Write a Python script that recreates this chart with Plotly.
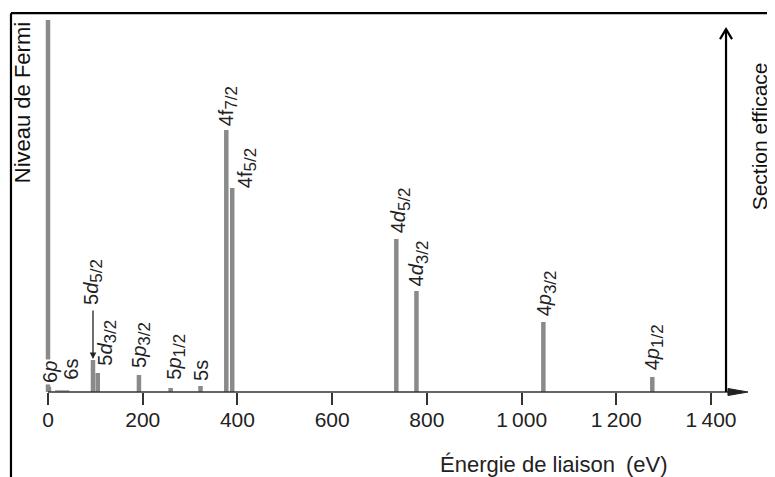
import plotly.graph_objects as go

# ---- data ----
levels = ["Fermi", "6p", "6s", "5d5/2", "5d3/2", "5p3/2", "5p1/2", "5s",
          "4f7/2", "4f5/2", "4d5/2", "4d3/2", "4p3/2", "4p1/2"]
energies = [0, 2, 30, 95, 105, 192, 259, 322, 376.5, 389, 735.5, 778, 1046, 1276]
intensities = [372, 5, 2, 32, 19, 17, 4, 6, 262, 204, 153, 101, 70, 15]
SUB = "<sub><span style='font-size:17px'>{}</span></sub>"
labels_html = [None, "6<i>p</i>", "6s",
               "5<i>d</i>" + SUB.format("5/2"),
               "5<i>d</i>" + SUB.format("3/2"),
               "5<i>p</i>" + SUB.format("3/2"),
               "5<i>p</i>" + SUB.format("1/2"),
               "5s",
               "4f" + SUB.format("7/2"),
               "4f" + SUB.format("5/2"),
               "4<i>d</i>" + SUB.format("5/2"),
               "4<i>d</i>" + SUB.format("3/2"),
               "4<i>p</i>" + SUB.format("3/2"),
               "4<i>p</i>" + SUB.format("1/2")]
tick_vals = [0, 200, 400, 600, 800, 1000, 1200, 1400]
tick_text = ["0", "200", "400", "600", "800", "1\u2009000", "1\u2009200", "1\u2009400"]

# ---- styling (pixel offsets of labels relative to bar tops) ----
label_xshift = [0, 1, 8, 0, 9, 2, 5, 0, 2, 15, 4, 2, 3, 2]
label_yshift = [0, 2, 8, 53, 5, 5, 6, 3, 2, -2, 4, 3, 4, 5]

FONT = "Liberation Sans, Arial, sans-serif"
BAR = "#8a8a8a"
AX = "#333333"

XMIN, XMAX = -29.56, 1499.2
YMIN, YMAX = 0, 380

main_idx = [i for i, l in enumerate(levels) if l != "6s"]
s6 = levels.index("6s")

fig = go.Figure()
fig.add_trace(go.Bar(x=[energies[i] for i in main_idx],
                     y=[intensities[i] for i in main_idx],
                     width=9.5, marker=dict(color=BAR, line=dict(width=0)),
                     hoverinfo="skip"))
fig.add_trace(go.Bar(x=[energies[s6]], y=[intensities[s6]], width=30,
                     marker=dict(color="#b0b0b0", line=dict(width=0)),
                     hoverinfo="skip"))

annotations = []
for i, lab in enumerate(labels_html):
    if lab is None:
        continue
    a = dict(x=energies[i], y=intensities[i], xref="x", yref="y",
             text=lab, textangle=-90, showarrow=False,
             xanchor="center", yanchor="bottom",
             xshift=label_xshift[i], yshift=label_yshift[i],
             font=dict(family=FONT, size=20, color="#222"))
    if levels[i] == "6p":
        a["bgcolor"] = "white"
    annotations.append(a)

# arrow from 5d5/2 label down to its bar
k = levels.index("5d5/2")
annotations.append(dict(x=energies[k], y=intensities[k] + 1, xref="x", yref="y",
                        ax=energies[k], ay=intensities[k] + label_yshift[k] - 2,
                        axref="x", ayref="y", showarrow=True, arrowhead=2,
                        arrowsize=1, arrowwidth=1.3, arrowcolor="#222", text=""))

# axis title and side labels
annotations.append(dict(x=1068, y=-0.192, xref="x", yref="paper",
                        text="Énergie de liaison\u2002(eV)", showarrow=False,
                        xanchor="center", yanchor="middle",
                        font=dict(family=FONT, size=22, color="#222")))
annotations.append(dict(x=-0.0165, y=0.76, xref="paper", yref="paper",
                        text="Niveau de Fermi", textangle=-90, showarrow=False,
                        xanchor="center", yanchor="middle",
                        font=dict(family=FONT, size=22, color="#111")))
annotations.append(dict(x=1.002, y=0.674, xref="paper", yref="paper",
                        text="Section efficace", textangle=-90, showarrow=False,
                        xanchor="center", yanchor="middle",
                        font=dict(family=FONT, size=21, color="#111")))

FX = -0.0318
shapes = [
    # outer frame (top and left edges; the rest is cut by the image border)
    dict(type="line", xref="paper", yref="paper", x0=FX, x1=1.03,
         y0=0.997, y1=0.997, line=dict(color="black", width=2.2)),
    dict(type="line", xref="paper", yref="paper", x0=FX, x1=FX,
         y0=-0.23, y1=0.997, line=dict(color="black", width=2.2)),
    # horizontal axis line
    dict(type="line", xref="x", yref="paper", x0=0, x1=1460, y0=0, y1=0,
         line=dict(color=AX, width=1.6)),
    # horizontal arrowhead
    dict(type="path", xref="x", yref="paper", xsizemode="pixel", ysizemode="pixel",
         xanchor=1478, yanchor=0, path="M -20,-3.5 L 0,0 L -20,3.5 Z",
         fillcolor="#222", line=dict(color="#222", width=1)),
    # vertical arrow (Section efficace)
    dict(type="line", xref="x", yref="paper", x0=1431.7, x1=1431.7, y0=0, y1=0.955,
         line=dict(color="black", width=2.2)),
    dict(type="path", xref="x", yref="paper", xsizemode="pixel", ysizemode="pixel",
         xanchor=1431.7, yanchor=0.955, path="M -6,-10 L 0,0 L 6,-10",
         line=dict(color="black", width=2.2)),
]

fig.update_layout(
    width=767, height=469,
    margin=dict(l=26, r=17, t=4, b=85),
    paper_bgcolor="white", plot_bgcolor="white",
    showlegend=False, barmode="overlay",
    xaxis=dict(range=[XMIN, XMAX], tickvals=tick_vals, ticktext=tick_text,
               ticks="outside", ticklen=12, tickwidth=1.5, tickcolor=AX,
               ticklabelstandoff=-3,
               showline=False, showgrid=False, zeroline=False,
               tickfont=dict(family=FONT, size=21, color="#222")),
    yaxis=dict(range=[YMIN, YMAX], visible=False, showgrid=False, zeroline=False),
    annotations=annotations,
    shapes=shapes,
)

fig.write_html("out.html")
